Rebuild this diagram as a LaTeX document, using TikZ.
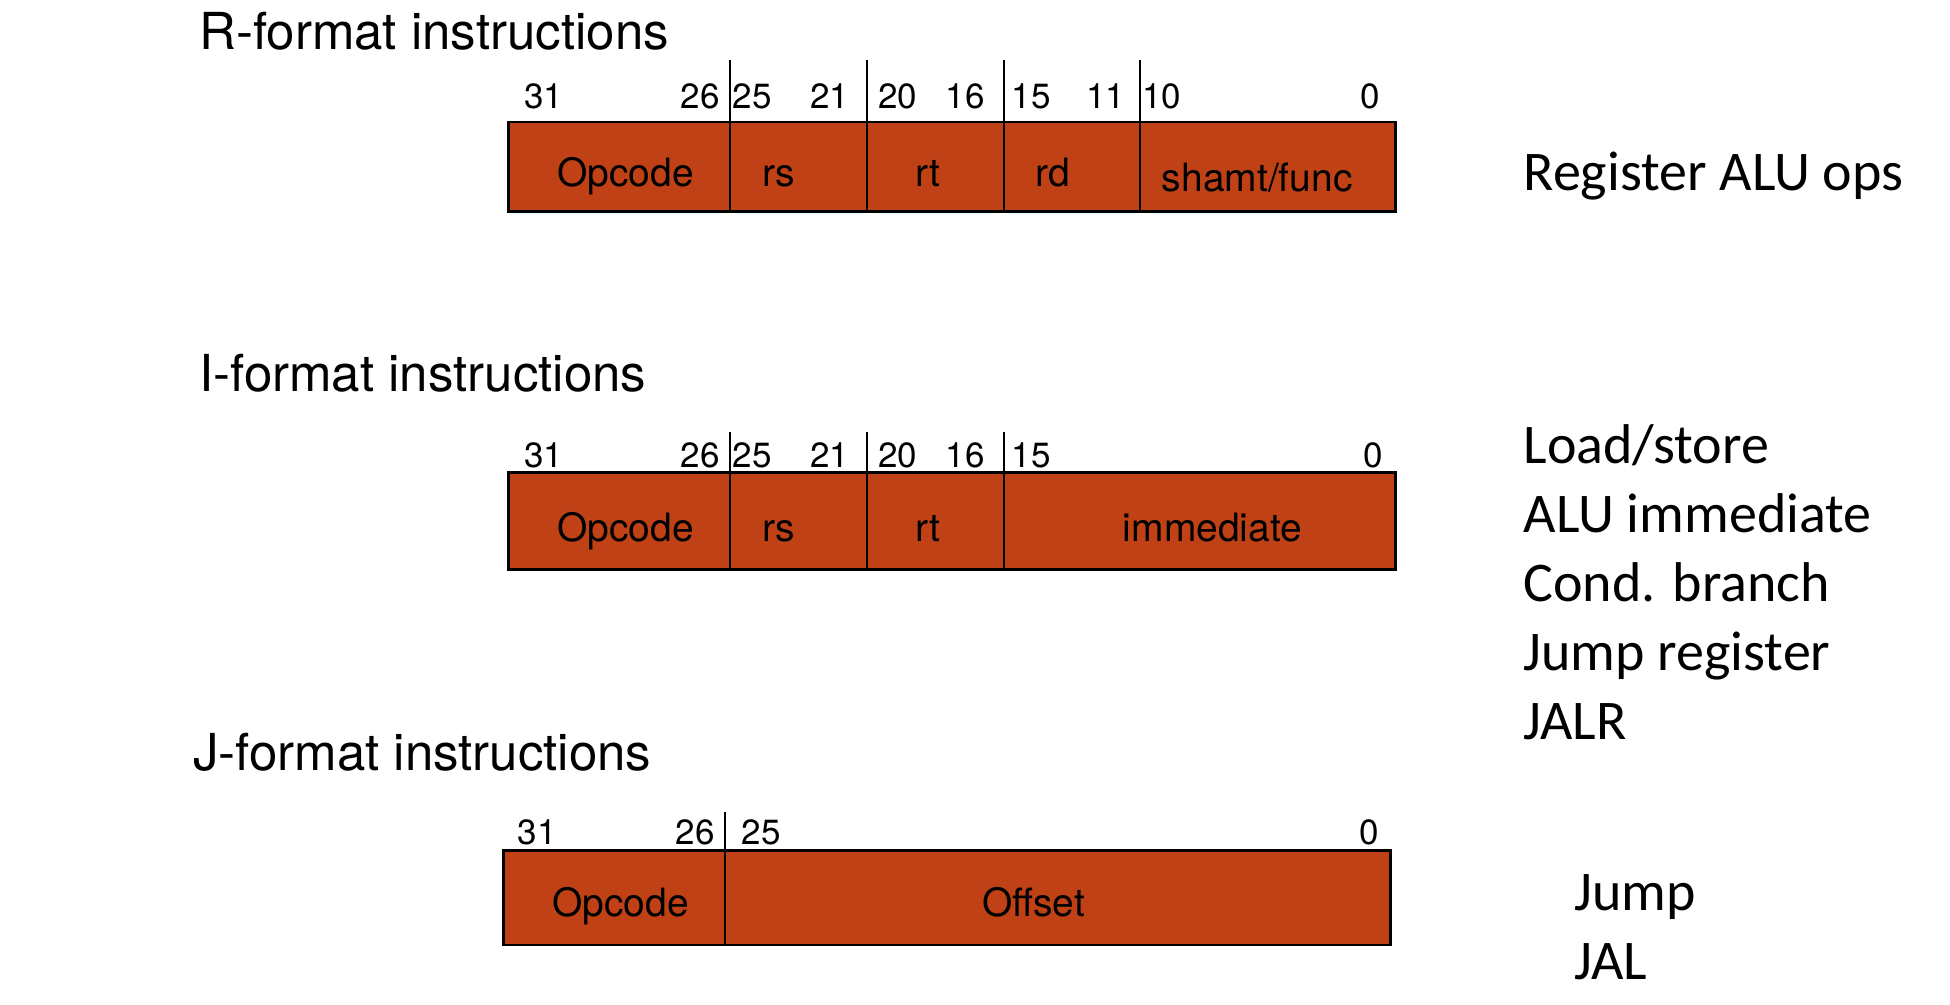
\documentclass[tikz,border=0pt]{standalone}
\usepackage{fontspec}
\setmainfont{TeX Gyre Heros}
\newfontfamily\calib{Carlito}
\definecolor{fieldfill}{RGB}{191,65,21}
\begin{document}
\begin{tikzpicture}[x=1pt,y=-1pt,
  fieldbox/.style={draw=black, line width=2.6pt, fill=fieldfill},
  divider/.style={draw=black, line width=2pt},
  title/.style={anchor=west, inner sep=0pt, text height=37pt, text depth=0pt, font=\fontsize{51}{60}\selectfont},
  bit/.style={inner sep=0pt, text height=25pt, text depth=0pt, font=\fontsize{35}{40}\selectfont},
  lab/.style={inner sep=0pt, text height=28pt, text depth=0pt, font=\fontsize{39}{45}\selectfont},
  usage/.style={anchor=west, inner sep=0pt, text height=36pt, text depth=0pt, font=\calib\fontsize{56}{66}\selectfont}]
\useasboundingbox (0,0) rectangle (1950,1004);
\fill[white] (0,0) rectangle (1950,1004);

% ---------- R-format ----------
\node[title] (rtitle) at (199,31) {R-format instructions};
\draw[fieldbox] (508.6,121.9) rectangle (1395.3,211.4);
\foreach \x in {730,866.8,1003.6,1140.4} \draw[divider] (\x,59.7) -- (\x,211.4);
\node[bit] (r31) at (543.5,95.8) {31};
\node[bit] (r26) at (700.1,95.8) {26};
\node[bit] (r25) at (752.4,95.8) {25};
\node[bit] (r21) at (829.5,95.8) {21};
\node[bit] (r20) at (897.9,95.8) {20};
\node[bit] (r16) at (965,95.8) {16};
\node[bit] (r15) at (1031,95.8) {15};
\node[bit] (r11) at (1105.6,95.8) {11};
\node[bit] (r10) at (1161.5,95.8) {10};
\node[bit] (r0) at (1370.4,95.8) {0};
\node[lab] (rop) at (625.5,172.9) {Opcode};
\node[lab] (rrs) at (778.5,172.9) {rs};
\node[lab] (rrt) at (927.7,172.9) {rt};
\node[lab] (rrd) at (1053.3,172.9) {rd};
\node[lab] (rfn) at (1257.3,177) {shamt/func};
\node[usage] (ruse) at (1523.4,172.9) {Register ALU ops};

% ---------- I-format ----------
\node[title] (ititle) at (199,373) {I-format instructions};
\draw[fieldbox] (508.6,472.6) rectangle (1395.3,569.6);
\foreach \x in {730,866.8,1003.6} \draw[divider] (\x,431.5) -- (\x,569.6);
\node[bit] (i31) at (543.5,455.2) {31};
\node[bit] (i26) at (700.1,455.2) {26};
\node[bit] (i25) at (752.4,455.2) {25};
\node[bit] (i21) at (829.5,455.2) {21};
\node[bit] (i20) at (897.9,455.2) {20};
\node[bit] (i16) at (965,455.2) {16};
\node[bit] (i15) at (1031,455.2) {15};
\node[bit] (i0) at (1373,455.2) {0};
\node[lab] (iop) at (625.5,527.3) {Opcode};
\node[lab] (irs) at (778.5,527.3) {rs};
\node[lab] (irt) at (927.7,527.3) {rt};
\node[lab] (iimm) at (1212.5,527.3) {immediate};
\node[usage] (iu1) at (1523.4,445.2) {Load/store};
\node[usage] (iu2) at (1523.4,514.9) {ALU immediate};
\node[usage] (iu3) at (1523.4,583.2) {Cond. branch};
\node[usage] (iu4) at (1523.4,652.9) {Jump register};
\node[usage] (iu5) at (1523.4,721.3) {JALR};

% ---------- J-format ----------
\node[title] (jtitle) at (192.8,752.4) {J-format instructions};
\draw[fieldbox] (503.7,850.6) rectangle (1390.3,945.1);
\draw[divider] (725,812) -- (725,945.1);
\node[bit] (j31) at (537.2,832) {31};
\node[bit] (j26) at (695.2,832) {26};
\node[bit] (j25) at (761.1,832) {25};
\node[bit] (j0) at (1369.2,832) {0};
\node[lab] (jop) at (620.6,902.9) {Opcode};
\node[lab] (joff) at (1033.4,902.9) {Offset};
\node[usage] (ju1) at (1574.4,892.9) {Jump};
\node[usage] (ju2) at (1574.4,961.3) {JAL};
\end{tikzpicture}
\end{document}
